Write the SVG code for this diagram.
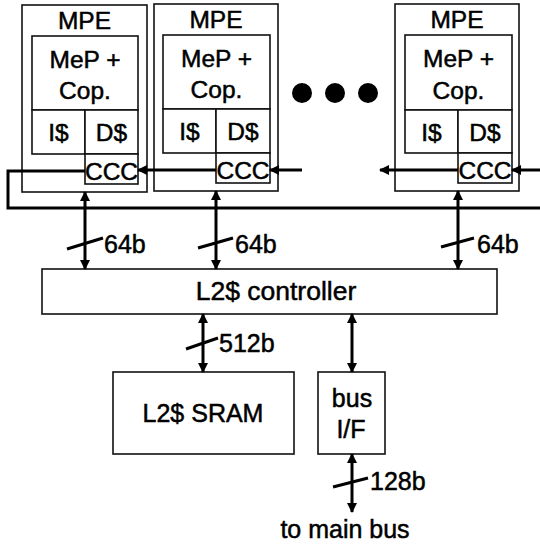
<svg xmlns="http://www.w3.org/2000/svg" width="540" height="546" viewBox="0 0 540 546">
<style>
.box{fill:#fff;stroke:#111;stroke-width:1.6}
.t,.ts,.lbl{font-family:"Liberation Sans",Arial,sans-serif;fill:#000;stroke:#000;stroke-width:0.5}
.t{font-size:25px;text-anchor:middle}
.ts{font-size:24.5px;text-anchor:middle}
.lbl{font-size:25px}
.w{fill:none;stroke:#000;stroke-width:3}
.a{fill:none;stroke:#000;stroke-width:3;marker-end:url(#ah)}
.d{fill:none;stroke:#000;stroke-width:3;marker-start:url(#ah);marker-end:url(#ah)}
.tick{fill:none;stroke:#000;stroke-width:3}
</style>
<defs>
<marker id="ah" viewBox="0 0 10 10" refX="9" refY="5" markerWidth="11" markerHeight="10" markerUnits="userSpaceOnUse" orient="auto-start-reverse">
<path d="M0,0 L10,5 L0,10 z" fill="#000"/>
</marker>
</defs>

<g id="mpe1">
<rect class="box" x="22" y="5" width="125" height="187"/>
<text class="ts" x="84.5" y="29">MPE</text>
<rect class="box" x="32" y="36" width="106" height="74"/>
<text class="ts" x="85" y="68">MeP +</text>
<text class="ts" x="85" y="99">Cop.</text>
<rect class="box" x="32" y="110" width="53" height="44"/>
<text class="ts" x="58.5" y="141">I$</text>
<rect class="box" x="85" y="110" width="53" height="44"/>
<text class="ts" x="111.5" y="141">D$</text>
<rect class="box" x="85" y="154" width="53" height="30"/>
<text class="ts" x="111.5" y="180">CCC</text>
</g>

<g id="mpe2">
<rect class="box" x="154" y="4" width="124" height="187"/>
<text class="ts" x="216" y="28">MPE</text>
<rect class="box" x="163" y="35" width="107" height="74"/>
<text class="ts" x="216.5" y="67">MeP +</text>
<text class="ts" x="216.5" y="98">Cop.</text>
<rect class="box" x="163" y="109" width="53" height="44"/>
<text class="ts" x="189.5" y="140">I$</text>
<rect class="box" x="216" y="109" width="54" height="44"/>
<text class="ts" x="243" y="140">D$</text>
<rect class="box" x="216" y="153" width="54" height="30"/>
<text class="ts" x="243" y="179">CCC</text>
</g>

<g id="dots">
<circle cx="302" cy="93" r="10" fill="#000"/>
<circle cx="335" cy="93" r="10" fill="#000"/>
<circle cx="368" cy="93" r="10" fill="#000"/>
</g>

<g id="mpe3">
<rect class="box" x="395" y="4" width="124" height="187"/>
<text class="ts" x="457" y="28">MPE</text>
<rect class="box" x="405" y="35" width="107" height="75"/>
<text class="ts" x="458.5" y="67">MeP +</text>
<text class="ts" x="458.5" y="99">Cop.</text>
<rect class="box" x="405" y="110" width="53" height="43"/>
<text class="ts" x="431.5" y="141">I$</text>
<rect class="box" x="458" y="110" width="54" height="43"/>
<text class="ts" x="485" y="141">D$</text>
<rect class="box" x="458" y="153" width="54" height="30"/>
<text class="ts" x="485" y="179">CCC</text>
</g>

<g id="l2ctrl">
<rect class="box" x="42" y="269" width="455" height="45"/>
<text class="t" x="276" y="300" style="font-size:26.5px">L2$ controller</text>
</g>

<g id="sram">
<rect class="box" x="113" y="372" width="181" height="82"/>
<text class="t" x="203" y="422">L2$ SRAM</text>
</g>

<g id="busif">
<rect class="box" x="318" y="372" width="67" height="82"/>
<text class="t" x="352" y="407">bus</text>
<text class="t" x="351" y="438">I/F</text>
</g>

<g id="connectors">
<polyline class="w" points="85,171 8,171 8,208 540,208"/>
<line class="a" x1="216" y1="170" x2="138" y2="170"/>
<line class="a" x1="302" y1="170" x2="270" y2="170"/>
<line class="a" x1="458" y1="170" x2="380" y2="170"/>
<line class="a" x1="540" y1="170" x2="512" y2="170"/>

<line class="d" x1="85" y1="192" x2="85" y2="269"/>
<line class="d" x1="216" y1="191" x2="216" y2="269"/>
<line class="d" x1="458" y1="191" x2="458" y2="269"/>
<line class="tick" x1="67" y1="249" x2="103" y2="238"/>
<line class="tick" x1="198" y1="248" x2="233" y2="238"/>
<line class="tick" x1="441" y1="247" x2="474" y2="238"/>
<text class="lbl" x="104" y="253">64b</text>
<text class="lbl" x="235" y="253">64b</text>
<text class="lbl" x="477" y="253">64b</text>

<line class="d" x1="203" y1="314" x2="203" y2="372"/>
<line class="tick" x1="186" y1="349" x2="218" y2="338"/>
<text class="lbl" x="219" y="352">512b</text>

<line class="d" x1="352" y1="314" x2="352" y2="372"/>

<line class="d" x1="352" y1="454" x2="352" y2="512"/>
<line class="tick" x1="333" y1="487" x2="368" y2="478"/>
<text class="lbl" x="370" y="490">128b</text>
<text class="t" x="345" y="538">to main bus</text>
</g>
</svg>
